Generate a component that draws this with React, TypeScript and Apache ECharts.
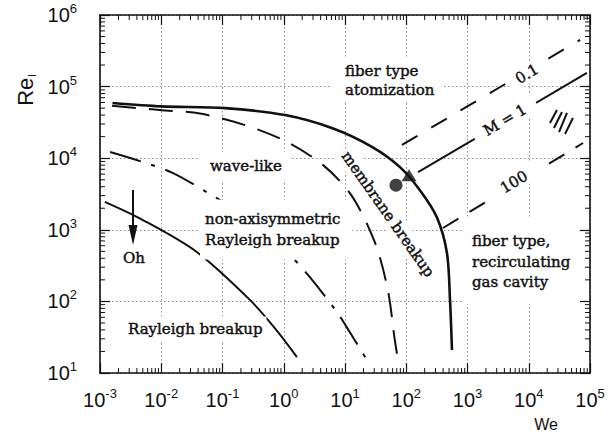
import React, { useEffect, useRef } from "react";
import * as echarts from "echarts";

// Axis ranges, as decade exponents of We (x) and Re_l (y)
const WE_EXP_MIN = -3;
const WE_EXP_MAX = 5;
const RE_EXP_MIN = 1;
const RE_EXP_MAX = 6;

// Regime boundary: fiber-type atomization (heavy solid curve)
const fiberWe = [1.6e-3, 1.0e-2, 0.11, 1.05, 6.4, 28, 79, 166, 316, 462, 518, 558];
const fiberRe = [5.9e4, 5.3e4, 5.0e4, 4.0e4, 2.6e4, 1.43e4, 7.5e3, 3.6e3, 1.5e3, 474, 105, 21];

// Regime boundary: membrane breakup (long-dash curve)
const membraneWe = [1.57e-3, 9.5e-3, 0.043, 0.233, 1.05, 4.4, 13, 31, 50, 65, 71];
const membraneRe = [5.4e4, 4.7e4, 4.2e4, 2.9e4, 1.74e4, 8.0e3, 2.95e3, 655, 145, 29, 18];

// Regime boundary: wave-like / non-axisymmetric Rayleigh (dash-dot curve)
const nonAxiWe = [1.46e-3, 4.9e-3, 0.0156, 0.058, 0.125, 0.38, 1.26, 2.49, 7.4, 12, 22.8];
const nonAxiRe = [1.22e4, 8.9e3, 6.2e3, 3.27e3, 2.2e3, 1.12e3, 445, 234, 71, 37, 15.2];

// Regime boundary: Rayleigh breakup (thin solid curve)
const rayleighWe = [1.2e-3, 5.0e-3, 0.038, 0.28, 0.72, 1.64];
const rayleighRe = [2.45e3, 1.37e3, 490, 105, 42, 16.7];

// Lines of constant M
const machLowWe = [85, 6.9e4];
const machLowRe = [1.53e4, 4.5e5];
const machOneWe = [156, 8.9e4];
const machOneRe = [6.4e3, 1.55e5];
const machHighWe = [398, 7.7e4];
const machHighRe = [1.06e3, 1.63e4];

// Markers on the fiber boundary
const dotPoint = [68, 4.2e3];
const trianglePoint = [111, 5.8e3];

// Hatch strokes: [We1, Re1, We2, Re2]
const hatchStrokes = [
  [2.22e4, 3.1e4, 2.89e4, 4.71e4],
  [2.58e4, 2.64e4, 3.49e4, 4.42e4],
  [3.12e4, 2.32e4, 4.21e4, 4.28e4],
  [3.91e4, 2.18e4, 5.27e4, 3.64e4],
];

// Increasing-Oh arrow: We position, Re from/to
const ohArrowWe = 3.46e-3;
const ohArrowRe = [3.6e3, 614];

const SANS = "Liberation Sans, Arial, sans-serif";
const SERIF = "DejaVu Serif, serif";
const INK = "#111111";

const lg = (v: number) => Math.log10(v);
const toLog = (we: number[], re: number[]) => we.map((w, i) => [lg(w), lg(re[i])]);

// log-decade minor tick positions (2..9 within each decade)
const minorPositions = (lo: number, hi: number) => {
  const out: number[] = [];
  for (let n = lo; n < hi; n++) for (let k = 2; k <= 9; k++) out.push(n + Math.log10(k));
  return out;
};

const curve = (name: string, we: number[], re: number[], width: number, type: any) => ({
  name,
  type: "line",
  data: toLog(we, re),
  showSymbol: false,
  symbol: "none",
  smooth: 0.3,
  silent: true,
  lineStyle: { color: INK, width, type, cap: "butt" },
  z: 3,
});

const straight = (name: string, we: number[], re: number[], width: number, type: any) => ({
  name,
  type: "line",
  data: toLog(we, re),
  showSymbol: false,
  symbol: "none",
  silent: true,
  lineStyle: { color: INK, width, type, cap: "butt" },
  z: 3,
});

const tickStyle = { stroke: INK, lineWidth: 1 };

const label = (
  text: string,
  x: number,
  y: number,
  opts: { rotation?: number; align?: string; lineHeight?: number; padding?: number[]; fontSize?: number } = {}
) => ({
  type: "text",
  x,
  y,
  rotation: ((opts.rotation || 0) * Math.PI) / 180,
  z: 10,
  silent: true,
  style: {
    text,
    fill: INK,
    stroke: INK,
    lineWidth: 0.45,
    font: `${opts.fontSize || 15}px ${SERIF}`,
    fontSize: opts.fontSize || 15,
    fontFamily: SERIF,
    align: opts.align || "left",
    verticalAlign: "middle",
    lineHeight: opts.lineHeight || 19,
    backgroundColor: "#fff",
    padding: opts.padding || [2, 4, 2, 4],
  },
});

const decadeLabel = (v: number) => `{b|10}{s|${Math.round(v)}}`;
const labelRich = {
  b: { fontSize: 20, lineHeight: 26, fontFamily: SANS, color: INK },
  s: { fontSize: 13, lineHeight: 14, fontFamily: SANS, color: INK, verticalAlign: "top" },
};

export default function App() {
  const ref = useRef<HTMLDivElement>(null);

  useEffect(() => {
    const chart = echarts.init(ref.current as HTMLDivElement, null, { renderer: "svg" });

    const frameAxis = {
      type: "value",
      axisLine: { show: true, onZero: false, lineStyle: { color: INK, width: 1.6 } },
      axisTick: { show: true, inside: true, length: 10, lineStyle: { color: INK, width: 1.2 } },
    };

    const option: any = {
      animation: false,
      backgroundColor: "#fff",
      grid: { left: 100, right: 18, top: 15, bottom: 64 },
      xAxis: [
        {
          ...frameAxis,
          position: "bottom",
          min: WE_EXP_MIN,
          max: WE_EXP_MAX,
          interval: 1,
          axisLabel: { margin: 14, interval: 0, formatter: decadeLabel, rich: labelRich },
          splitLine: { show: true, lineStyle: { color: "#8a8a8a", width: 1, type: [1.5, 2.5] } },
        },
        {
          ...frameAxis,
          position: "top",
          min: WE_EXP_MIN,
          max: WE_EXP_MAX,
          interval: 1,
          axisLabel: { show: false },
          splitLine: { show: false },
          z: 20,
        },
      ],
      yAxis: [
        {
          ...frameAxis,
          position: "left",
          min: RE_EXP_MIN,
          max: RE_EXP_MAX,
          interval: 1,
          axisLabel: { margin: 23, interval: 0, formatter: decadeLabel, rich: labelRich },
          splitLine: { show: true, lineStyle: { color: "#8a8a8a", width: 1, type: [1.5, 2.5] } },
        },
        {
          ...frameAxis,
          position: "right",
          min: RE_EXP_MIN,
          max: RE_EXP_MAX,
          interval: 1,
          axisLabel: { show: false },
          splitLine: { show: false },
          z: 20,
        },
      ],
      series: [
        curve("fiber", fiberWe, fiberRe, 2.6, "solid"),
        curve("membrane", membraneWe, membraneRe, 2, [24, 13]),
        curve("nonAxisymmetric", nonAxiWe, nonAxiRe, 2, [32, 11, 4, 11]),
        curve("rayleigh", rayleighWe, rayleighRe, 2, "solid"),
        straight("M=0.1", machLowWe, machLowRe, 2, [18, 16]),
        straight("M=1", machOneWe, machOneRe, 2, "solid"),
        straight("M=100", machHighWe, machHighRe, 2, [18, 13]),
        {
          name: "dot",
          type: "scatter",
          data: [[lg(dotPoint[0]), lg(dotPoint[1])]],
          symbol: "circle",
          symbolSize: 13,
          itemStyle: { color: INK },
          silent: true,
          z: 4,
        },
        {
          name: "triangle",
          type: "scatter",
          data: [[lg(trianglePoint[0]), lg(trianglePoint[1])]],
          symbol: "triangle",
          symbolSize: [15, 12],
          itemStyle: { color: INK },
          silent: true,
          z: 4,
        },
        {
          name: "hatch",
          type: "custom",
          silent: true,
          data: hatchStrokes.map((s) => [lg(s[0]), lg(s[1]), lg(s[2]), lg(s[3])]),
          encode: { x: [0, 2], y: [1, 3] },
          renderItem: (_p: any, api: any) => {
            const a = api.coord([api.value(0), api.value(1)]);
            const b = api.coord([api.value(2), api.value(3)]);
            return {
              type: "line",
              shape: { x1: a[0], y1: a[1], x2: b[0], y2: b[1] },
              style: { stroke: INK, lineWidth: 2 },
            };
          },
          z: 3,
        },
        {
          name: "ohArrow",
          type: "custom",
          silent: true,
          data: [[lg(ohArrowWe), lg(ohArrowRe[0]), lg(ohArrowRe[1])]],
          encode: { x: 0, y: [1, 2] },
          renderItem: (_p: any, api: any) => {
            const s = api.coord([api.value(0), api.value(1)]);
            const t = api.coord([api.value(0), api.value(2)]);
            return {
              type: "group",
              children: [
                {
                  type: "line",
                  shape: { x1: s[0], y1: s[1], x2: t[0], y2: t[1] - 16 },
                  style: { stroke: INK, lineWidth: 2 },
                },
                {
                  type: "polygon",
                  shape: {
                    points: [
                      [t[0], t[1]],
                      [t[0] - 4.5, t[1] - 20],
                      [t[0] + 4.5, t[1] - 20],
                    ],
                  },
                  style: { fill: INK },
                },
              ],
            };
          },
          z: 3,
        },
        {
          name: "minorTicksX",
          type: "custom",
          silent: true,
          clip: false,
          data: minorPositions(WE_EXP_MIN, WE_EXP_MAX).map((v) => [v, RE_EXP_MIN]),
          renderItem: (_p: any, api: any) => {
            const b = api.coord([api.value(0), RE_EXP_MIN]);
            const t = api.coord([api.value(0), RE_EXP_MAX]);
            return {
              type: "group",
              children: [
                { type: "line", shape: { x1: b[0], y1: b[1], x2: b[0], y2: b[1] - 5 }, style: tickStyle },
                { type: "line", shape: { x1: t[0], y1: t[1], x2: t[0], y2: t[1] + 5 }, style: tickStyle },
              ],
            };
          },
          z: 21,
        },
        {
          name: "minorTicksY",
          type: "custom",
          silent: true,
          clip: false,
          data: minorPositions(RE_EXP_MIN, RE_EXP_MAX).map((v) => [WE_EXP_MIN, v]),
          renderItem: (_p: any, api: any) => {
            const l = api.coord([WE_EXP_MIN, api.value(1)]);
            const r = api.coord([WE_EXP_MAX, api.value(1)]);
            return {
              type: "group",
              children: [
                { type: "line", shape: { x1: l[0], y1: l[1], x2: l[0] + 5, y2: l[1] }, style: tickStyle },
                { type: "line", shape: { x1: r[0], y1: r[1], x2: r[0] - 5, y2: r[1] }, style: tickStyle },
              ],
            };
          },
          z: 21,
        },
      ],
      graphic: [
        {
          type: "text",
          x: 25,
          y: 90,
          rotation: Math.PI / 2,
          z: 10,
          silent: true,
          style: {
            text: "{a|Re}{b|l}",
            align: "center",
            verticalAlign: "middle",
            rich: {
              a: { fontSize: 22, fontFamily: SANS, fill: INK, color: INK, lineHeight: 24 },
              b: { fontSize: 11, fontFamily: SANS, fill: INK, color: INK, padding: [10, 0, 0, 1], verticalAlign: "bottom" },
            },
          },
        },
        {
          type: "text",
          x: 546,
          y: 424,
          z: 10,
          silent: true,
          style: {
            text: "We",
            font: `16px ${SANS}`,
            fill: INK,
            align: "center",
            verticalAlign: "middle",
          },
        },
        label("fiber type\natomization", 332, 80.5, { padding: [3, 7, 3, 13], lineHeight: 19 }),
        label("wave-like", 200, 166, { padding: [5, 10, 5, 10] }),
        label("non-axisymmetric\nRayleigh breakup", 200, 229.5, { padding: [9, 12, 9, 5], lineHeight: 21 }),
        label("Oh", 134, 258, { align: "center", padding: [2, 3, 2, 3] }),
        label("Rayleigh breakup", 124, 329, { padding: [3, 4, 3, 4] }),
        label("fiber type,\nrecirculating\ngas cavity", 462, 261.5, { padding: [12, 10, 12, 10], lineHeight: 20.5 }),
        label("membrane breakup", 388, 214, { align: "center", rotation: -55, padding: [1, 3, 1, 3] }),
        label("0.1", 527, 74, { align: "center", rotation: 30.5, padding: [0, 8, 0, 8] }),
        label("M = 1", 505, 120, { align: "center", rotation: 30.5, padding: [0, 12, 0, 12] }),
        label("100", 514, 182, { align: "center", rotation: 31, padding: [0, 14, 0, 14] }),
      ],
    };

    chart.setOption(option);
    return () => chart.dispose();
  }, []);

  return (
    <div
      ref={ref}
      style={{ position: "fixed", left: 0, top: 0, width: 608, height: 437, background: "#fff" }}
    />
  );
}
